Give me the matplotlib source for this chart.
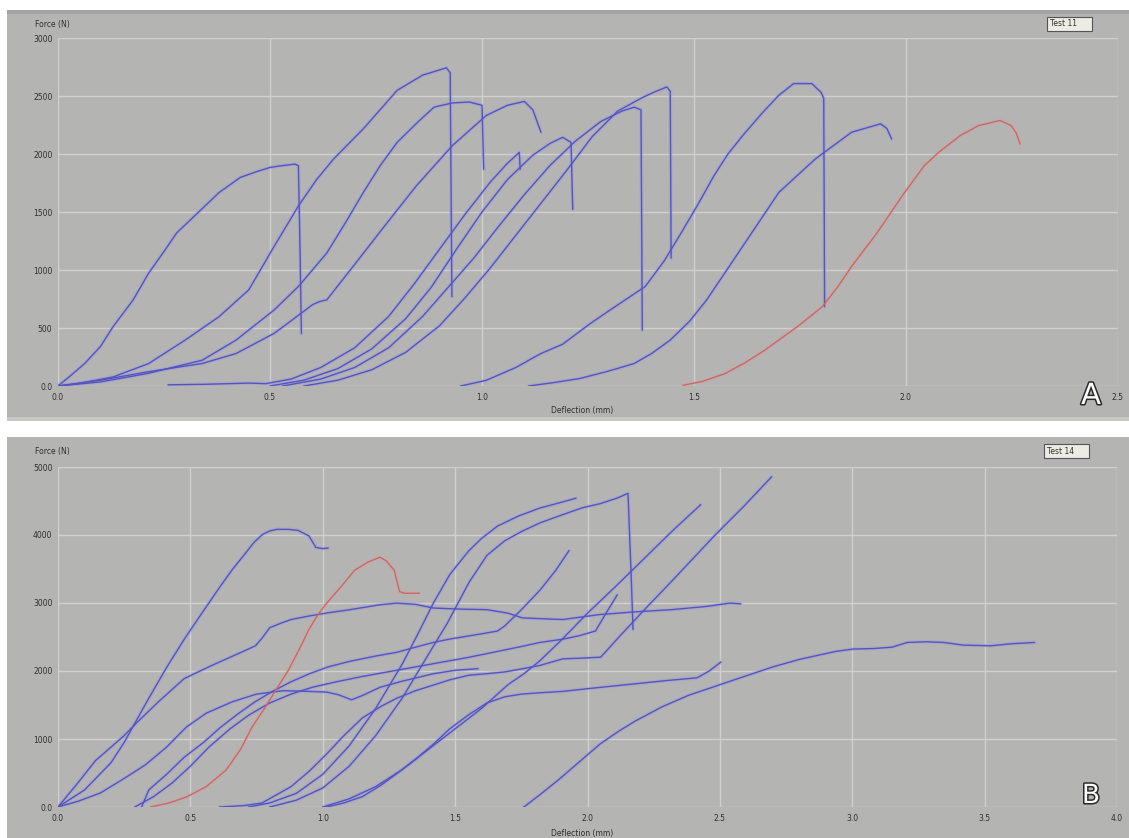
import matplotlib
matplotlib.use('Agg')
import matplotlib.pyplot as plt
import matplotlib.patheffects as pe
from matplotlib.patches import Rectangle

# ---- panel A (Test 11): deflection (mm) / force (N) ----
a1_x = [0.0, 0.03, 0.063, 0.10, 0.13, 0.177, 0.214, 0.25, 0.28, 0.33, 0.38, 0.43, 0.47, 0.50, 0.53, 0.559, 0.567, 0.571, 0.574]
a1_f = [0, 90, 194, 340, 512, 741, 974, 1160, 1320, 1494, 1668, 1798, 1850, 1884, 1900, 1913, 1899, 1147, 454]

a2_x = [0.0, 0.046, 0.13, 0.214, 0.30, 0.38, 0.45, 0.51, 0.567, 0.61, 0.65, 0.72, 0.80, 0.86, 0.916, 0.925, 0.929]
a2_f = [0, 20, 78, 194, 396, 598, 829, 1205, 1552, 1780, 1957, 2217, 2549, 2680, 2743, 2700, 772]

a3_x = [0.0, 0.1, 0.21, 0.34, 0.42, 0.51, 0.567, 0.634, 0.68, 0.72, 0.76, 0.80, 0.85, 0.887, 0.93, 0.97, 1.0, 1.004]
a3_f = [0, 35, 107, 222, 396, 656, 858, 1147, 1420, 1668, 1900, 2101, 2280, 2404, 2440, 2448, 2420, 1870]

a4_x = [0.0, 0.1, 0.21, 0.34, 0.42, 0.51, 0.584, 0.60, 0.617, 0.634, 0.69, 0.77, 0.845, 0.93, 1.01, 1.06, 1.10, 1.12, 1.139]
a4_f = [0, 50, 121, 194, 280, 454, 656, 700, 728, 743, 1003, 1378, 1725, 2072, 2332, 2420, 2453, 2380, 2188]

b1_x = [0.26, 0.35, 0.45, 0.49, 0.55, 0.62, 0.70, 0.78, 0.84, 0.90, 0.96, 1.02, 1.06, 1.088, 1.09]
b1_f = [10, 15, 25, 20, 60, 160, 330, 600, 880, 1180, 1480, 1760, 1920, 2014, 1870]

b2_x = [0.5, 0.58, 0.66, 0.74, 0.82, 0.88, 0.94, 1.0, 1.06, 1.12, 1.16, 1.19, 1.21, 1.214]
b2_f = [0, 50, 150, 320, 580, 850, 1180, 1500, 1780, 1990, 2090, 2144, 2100, 1523]

b3_x = [0.53, 0.62, 0.70, 0.78, 0.86, 0.92, 0.98, 1.04, 1.10, 1.16, 1.22, 1.28, 1.33, 1.359, 1.375, 1.378]
b3_f = [0, 60, 160, 330, 600, 850, 1100, 1380, 1650, 1900, 2110, 2280, 2370, 2404, 2380, 483]

b4_x = [0.58, 0.66, 0.74, 0.82, 0.90, 0.96, 1.02, 1.08, 1.14, 1.20, 1.26, 1.32, 1.38, 1.41, 1.436, 1.444, 1.446]
b4_f = [0, 50, 140, 290, 520, 760, 1020, 1300, 1580, 1860, 2150, 2370, 2490, 2540, 2578, 2540, 1104]

c1_x = [0.95, 1.01, 1.08, 1.139, 1.19, 1.256, 1.30, 1.385, 1.43, 1.47, 1.51, 1.547, 1.58, 1.615, 1.66, 1.70, 1.735, 1.778, 1.80, 1.806, 1.808]
c1_f = [0, 49, 160, 280, 360, 540, 650, 858, 1080, 1321, 1570, 1812, 2000, 2159, 2350, 2506, 2607, 2607, 2530, 2480, 685]

c2_x = [1.11, 1.17, 1.23, 1.30, 1.359, 1.40, 1.444, 1.49, 1.53, 1.57, 1.615, 1.66, 1.70, 1.786, 1.872, 1.94, 1.955, 1.966]
c2_f = [0, 30, 64, 130, 194, 280, 396, 560, 743, 960, 1205, 1450, 1668, 1957, 2188, 2260, 2220, 2130]

ra_x = [1.474, 1.52, 1.573, 1.62, 1.667, 1.744, 1.803, 1.84, 1.872, 1.932, 1.991, 2.043, 2.077, 2.128, 2.171, 2.222, 2.248, 2.26, 2.269]
ra_f = [6, 40, 107, 200, 309, 512, 685, 860, 1032, 1321, 1639, 1899, 2014, 2159, 2245, 2289, 2245, 2180, 2087]

# ---- panel B (Test 14) ----
p1_x = [0.0, 0.1, 0.2, 0.25, 0.3, 0.343, 0.41, 0.477, 0.545, 0.612, 0.66, 0.706, 0.74, 0.773, 0.80, 0.827, 0.87, 0.907, 0.948, 0.974, 1.0, 1.02]
p1_f = [0, 250, 650, 950, 1300, 1600, 2050, 2468, 2860, 3239, 3500, 3721, 3890, 4010, 4060, 4083, 4083, 4068, 3986, 3817, 3800, 3808]

p2_x = [0.0, 0.07, 0.141, 0.2, 0.25, 0.3, 0.38, 0.477, 0.58, 0.692, 0.746, 0.77, 0.80, 0.84, 0.88, 0.95, 1.015, 1.1, 1.216, 1.28, 1.35, 1.418, 1.52, 1.62, 1.70, 1.754, 1.82, 1.907, 2.044, 2.18, 2.318, 2.45, 2.537, 2.578]
p2_f = [0, 330, 680, 880, 1050, 1250, 1550, 1889, 2080, 2275, 2371, 2480, 2637, 2700, 2757, 2810, 2853, 2900, 2974, 2998, 2980, 2926, 2910, 2902, 2850, 2781, 2770, 2757, 2829, 2870, 2902, 2950, 2998, 2988]

p3_x = [0.0, 0.08, 0.16, 0.25, 0.33, 0.41, 0.485, 0.56, 0.66, 0.75, 0.85, 0.95, 1.015, 1.06, 1.109, 1.15, 1.216, 1.3, 1.418, 1.5, 1.586]
p3_f = [0, 90, 206, 420, 620, 880, 1176, 1380, 1550, 1660, 1710, 1700, 1690, 1650, 1576, 1640, 1760, 1850, 1960, 2010, 2034]

rb_x = [0.35, 0.42, 0.485, 0.56, 0.635, 0.69, 0.733, 0.78, 0.823, 0.87, 0.91, 0.948, 0.98, 1.015, 1.069, 1.12, 1.17, 1.216, 1.24, 1.27, 1.29, 1.31, 1.364]
rb_f = [0, 60, 147, 300, 544, 850, 1176, 1450, 1720, 2010, 2309, 2612, 2820, 2998, 3239, 3480, 3600, 3673, 3620, 3480, 3167, 3143, 3143]

p4_x = [0.72, 0.8, 0.9, 1.0, 1.1, 1.2, 1.3, 1.36, 1.418, 1.48, 1.552, 1.6, 1.66, 1.74, 1.82, 1.9, 1.956]
p4_f = [0, 60, 200, 480, 900, 1450, 2100, 2550, 3000, 3420, 3769, 3950, 4131, 4280, 4396, 4480, 4540]

p5_x = [0.8, 0.9, 1.0, 1.1, 1.2, 1.3, 1.4, 1.47, 1.552, 1.62, 1.687, 1.75, 1.821, 1.907, 1.98, 2.047, 2.11, 2.153, 2.165, 2.172]
p5_f = [0, 100, 280, 600, 1050, 1600, 2250, 2700, 3300, 3700, 3914, 4050, 4179, 4300, 4400, 4460, 4540, 4613, 3400, 2612]

p6_x = [0.316, 0.343, 0.41, 0.477, 0.55, 0.612, 0.68, 0.746, 0.81, 0.88, 0.95, 1.02, 1.1, 1.2, 1.28, 1.35, 1.418, 1.48, 1.552, 1.62, 1.66, 1.687, 1.75, 1.821, 1.88, 1.93]
p6_f = [0, 251, 480, 733, 950, 1166, 1370, 1552, 1700, 1841, 1960, 2060, 2140, 2220, 2275, 2350, 2420, 2470, 2516, 2560, 2588, 2661, 2900, 3191, 3480, 3769]

p7_x = [0.29, 0.36, 0.43, 0.5, 0.57, 0.65, 0.72, 0.8, 0.88, 0.96, 1.05, 1.15, 1.25, 1.35, 1.45, 1.55, 1.65, 1.75, 1.82, 1.907, 1.97, 2.03, 2.07, 2.112]
p7_f = [0, 150, 350, 600, 880, 1150, 1350, 1530, 1660, 1760, 1840, 1920, 1990, 2060, 2130, 2200, 2280, 2360, 2420, 2468, 2520, 2588, 2850, 3118]

p8_x = [1.0, 1.1, 1.2, 1.3, 1.4, 1.5, 1.6, 1.7, 1.76, 1.82, 1.9, 2.0, 2.1, 2.2, 2.32, 2.427]
p8_f = [0, 120, 300, 550, 850, 1150, 1450, 1800, 1960, 2150, 2450, 2850, 3220, 3600, 4058, 4444]

p9_x = [0.61, 0.7, 0.77, 0.88, 0.95, 1.015, 1.08, 1.15, 1.22, 1.28, 1.35, 1.418, 1.48, 1.552, 1.62, 1.687, 1.75, 1.82, 1.907, 1.98, 2.05, 2.126, 2.222, 2.318, 2.40, 2.482, 2.59, 2.695]
p9_f = [0, 20, 58, 299, 530, 781, 1050, 1311, 1480, 1600, 1710, 1793, 1870, 1938, 1960, 1986, 2030, 2082, 2179, 2190, 2203, 2530, 2930, 3320, 3660, 4000, 4420, 4854]

p10_x = [1.015, 1.08, 1.15, 1.22, 1.28, 1.35, 1.418, 1.48, 1.552, 1.62, 1.687, 1.75, 1.82, 1.907, 2.0, 2.1, 2.2, 2.3, 2.414, 2.46, 2.503]
p10_f = [0, 60, 154, 320, 492, 700, 925, 1150, 1359, 1530, 1620, 1660, 1680, 1700, 1740, 1780, 1820, 1860, 1900, 2000, 2130]

p11_x = [1.76, 1.82, 1.889, 1.95, 2.047, 2.12, 2.18, 2.28, 2.38, 2.496, 2.6, 2.7, 2.8, 2.866, 2.94, 3.003, 3.08, 3.15, 3.208, 3.28, 3.345, 3.42, 3.523, 3.6, 3.688]
p11_f = [0, 180, 395, 600, 925, 1120, 1263, 1470, 1640, 1793, 1930, 2060, 2170, 2227, 2290, 2323, 2330, 2350, 2420, 2430, 2420, 2380, 2371, 2400, 2420]

a_x_ticks = [0.0, 0.5, 1.0, 1.5, 2.0, 2.5]
a_y_ticks = [0, 500, 1000, 1500, 2000, 2500, 3000]
b_x_ticks = [0.0, 0.5, 1.0, 1.5, 2.0, 2.5, 3.0, 3.5, 4.0]
b_y_ticks = [0, 1000, 2000, 3000, 4000, 5000]

PANEL = '#b4b4b2'
GRID = '#d0d0cf'
BLUE = '#5454bc'
BLUE_HALO = '#9a9ae0'
RED = '#c46a6a'
RED_HALO = '#dba0a0'
W, H = 1129, 838


def draw_curve(ax, x, f, core, halo):
    ax.plot(x, f, color=halo, lw=2.8, alpha=0.4, solid_capstyle='round', zorder=2)
    ax.plot(x, f, color=core, lw=1.0, zorder=3)


def setup_axes(ax, xticks, yticks, xmax, ymax):
    ax.set_facecolor('none')
    ax.set_xlim(0, xmax)
    ax.set_ylim(0, ymax)
    ax.set_xticks(xticks)
    ax.set_xticklabels([f'{t:.1f}' for t in xticks])
    ax.set_yticks(yticks)
    ax.set_yticklabels(['0.0' if t == 0 else str(t) for t in yticks])
    ax.tick_params(length=0, labelsize=5.5, labelcolor='#303030')
    ax.tick_params(axis='x', pad=5)
    ax.tick_params(axis='y', pad=4)
    for s in ax.spines.values():
        s.set_visible(False)
    ax.grid(True, color=GRID, lw=1.0, zorder=1)
    ax.set_axisbelow(True)


def px(x, y):
    return x / W, 1 - y / H


fig = plt.figure(figsize=(W / 100, H / 100), dpi=100)
fig.patch.set_facecolor('white')
# grey panel backgrounds, kept behind the axes
fig.patches.append(Rectangle(px(7, 421), 1 - 7 / W, 411 / H, transform=fig.transFigure,
                             facecolor=PANEL, edgecolor='none', zorder=-10))
fig.patches.append(Rectangle(px(7, 14), 1 - 7 / W, 4 / H, transform=fig.transFigure,
                             facecolor='#a2a2a2', edgecolor='none', zorder=-10))
fig.patches.append(Rectangle(px(7, 421), 1 - 7 / W, 4 / H, transform=fig.transFigure,
                             facecolor='#c6c6c4', edgecolor='none', zorder=-10))
fig.patches.append(Rectangle(px(7, 838), 1 - 7 / W, 401 / H, transform=fig.transFigure,
                             facecolor=PANEL, edgecolor='none', zorder=-10))

ax_a = fig.add_axes([58 / W, 1 - 386 / H, 1060 / W, 348 / H])
setup_axes(ax_a, a_x_ticks, a_y_ticks, 2.5, 3000)
for x, f in [(a1_x, a1_f), (a2_x, a2_f), (a3_x, a3_f), (a4_x, a4_f),
             (b1_x, b1_f), (b2_x, b2_f), (b3_x, b3_f), (b4_x, b4_f),
             (c1_x, c1_f), (c2_x, c2_f)]:
    draw_curve(ax_a, x, f, BLUE, BLUE_HALO)
draw_curve(ax_a, ra_x, ra_f, RED, RED_HALO)

ax_b = fig.add_axes([58 / W, 1 - 807 / H, 1059 / W, 340 / H])
setup_axes(ax_b, b_x_ticks, b_y_ticks, 4.0, 5000)
for x, f in [(p1_x, p1_f), (p2_x, p2_f), (p3_x, p3_f), (p4_x, p4_f),
             (p5_x, p5_f), (p6_x, p6_f), (p7_x, p7_f), (p8_x, p8_f),
             (p9_x, p9_f), (p10_x, p10_f), (p11_x, p11_f)]:
    draw_curve(ax_b, x, f, BLUE, BLUE_HALO)
draw_curve(ax_b, rb_x, rb_f, RED, RED_HALO)

# axis titles, as in the instrument software
tkw = dict(fontsize=5.5, color='#303030')
fig.text(*px(35, 24), 'Force (N)', va='center', ha='left', **tkw)
fig.text(*px(35, 451), 'Force (N)', va='center', ha='left', **tkw)
fig.text(*px(582, 410), 'Deflection (mm)', va='center', ha='center', **tkw)
fig.text(*px(582, 833), 'Deflection (mm)', va='center', ha='center', **tkw)

box = dict(boxstyle='square,pad=0.35', facecolor='#ecece4', edgecolor='#555555', lw=0.8)
fig.text(*px(1050, 24), 'Test 11     ', va='center', ha='left', bbox=box, **tkw)
fig.text(*px(1047, 451), 'Test 14     ', va='center', ha='left', bbox=box, **tkw)

outline = [pe.withStroke(linewidth=2.2, foreground='#2a2a2a')]
fig.text(*px(1091, 396), 'A', fontsize=21, color='white', ha='center', va='center',
         path_effects=outline)
fig.text(*px(1091, 796), 'B', fontsize=19, color='white', ha='center', va='center',
         path_effects=outline)

fig.savefig('out.png', dpi=100)
